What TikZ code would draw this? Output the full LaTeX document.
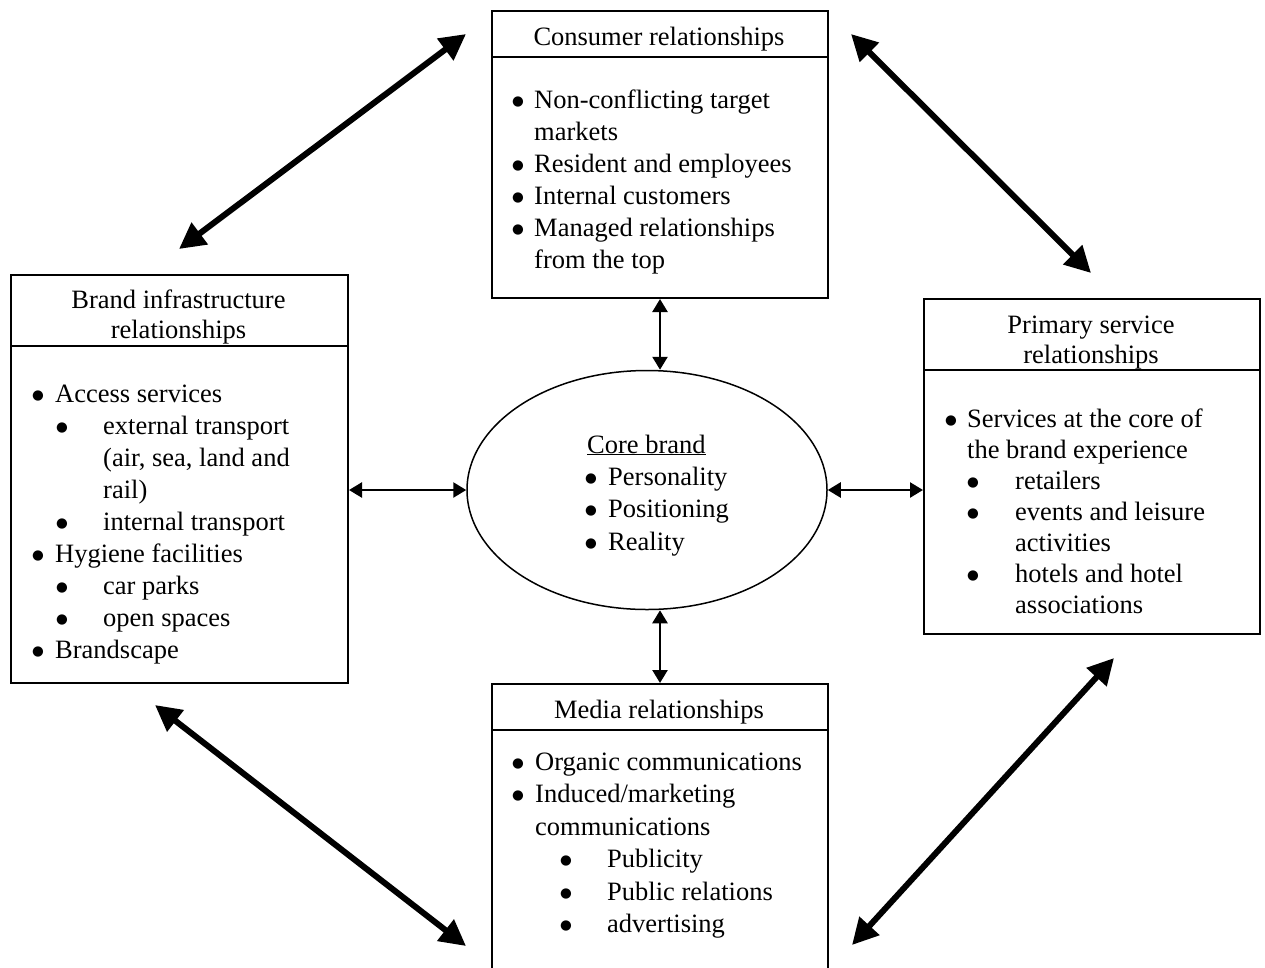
\documentclass[tikz,border=0pt]{standalone}
\usepackage{fontspec}
\setmainfont{Liberation Serif}
\newfontfamily\dejavu{DejaVu Sans}
\usetikzlibrary{arrows.meta,shapes.geometric}
\newcommand\Bul{\raisebox{3pt}{\dejavu\fontsize{13.5pt}{14pt}\selectfont ●}}
\newcommand\BL[2]{\hbox{\makebox[#1][l]{\Bul}#2}}
\newcommand\IN[2]{\hbox{\hspace*{#1}#2}}
\newcommand\BLL[3]{\hbox{\hspace*{#1}\makebox[#2][l]{\Bul}#3}}
\newcommand\Lines[2][32pt]{\vtop{\baselineskip=#1\lineskiplimit=-100pt\lineskip=0pt #2}}
\newcommand\Title[1]{\vtop{\baselineskip=30pt\lineskiplimit=-100pt\lineskip=0pt\halign{\hfil##\hfil\cr#1\crcr}}}
\begin{document}
\begin{tikzpicture}[x=1pt,y=-1pt,
  box/.style={draw, line width=2pt, rectangle, anchor=north west, inner sep=0pt},
  txt/.style={inner sep=0pt, anchor=base west, font=\fontsize{26.5pt}{32pt}\selectfont},
  ttl/.style={inner sep=0pt, anchor=base, font=\fontsize{26.5pt}{32pt}\selectfont},
  divider/.style={line width=2pt},
  thin arrow/.style={line width=2.5pt, {Triangle[length=13pt,width=15pt]}-{Triangle[length=13pt,width=15pt]}},
  thick arrow/.style={line width=6pt, {Triangle[length=26pt,width=26pt]}-{Triangle[length=26pt,width=26pt]}}]

\useasboundingbox[fill=white] (0,0) rectangle (1265,967);

% boxes
\node[box, minimum width=336pt, minimum height=287pt] (cons) at (491,10) {};
\node[box, minimum width=337pt, minimum height=408pt] (brand) at (10,274) {};
\node[box, minimum width=336pt, minimum height=335pt] (prim) at (923,298) {};
\node[box, minimum width=336pt, minimum height=300pt] (media) at (491,683) {};
\node[draw, ellipse, line width=1.5pt, minimum width=360pt, minimum height=239pt, inner sep=0pt] (core) at (647,490) {};

% dividers
\draw[divider] ([yshift=-47pt]cons.north west) -- ([yshift=-47pt]cons.north east);
\draw[divider] ([yshift=-72pt]brand.north west) -- ([yshift=-72pt]brand.north east);
\draw[divider] ([yshift=-72pt]prim.north west) -- ([yshift=-72pt]prim.north east);
\draw[divider] ([yshift=-47pt]media.north west) -- ([yshift=-47pt]media.north east);

% titles
\node[ttl] (consT) at (659,45) {Consumer relationships};
\node[ttl] (brandT) at (178.5,308) {\Title{Brand infrastructure\cr relationships}};
\node[ttl] (primT) at (1091,333) {\Title{Primary service\cr relationships}};
\node[ttl] (mediaT) at (659,718) {Media relationships};

% bodies
\node[txt] (consL) at (512,108) {\Lines{%
  \BL{22pt}{Non-conflicting target}%
  \IN{22pt}{markets}%
  \BL{22pt}{Resident and employees}%
  \BL{22pt}{Internal customers}%
  \BL{22pt}{Managed relationships}%
  \IN{22pt}{from the top}}};

\node[txt] (brandL) at (32,402) {\Lines{%
  \BL{23pt}{Access services}%
  \BLL{24pt}{47pt}{external transport}%
  \IN{71pt}{(air, sea, land and}%
  \IN{71pt}{rail)}%
  \BLL{24pt}{47pt}{internal transport}%
  \BL{23pt}{Hygiene facilities}%
  \BLL{24pt}{47pt}{car parks}%
  \BLL{24pt}{47pt}{open spaces}%
  \BL{23pt}{Brandscape}}};

\node[txt] (primL) at (945,427) {\Lines[31pt]{%
  \BL{22pt}{Services at the core of}%
  \IN{22pt}{the brand experience}%
  \BLL{22pt}{48pt}{retailers}%
  \BLL{22pt}{48pt}{events and leisure}%
  \IN{70pt}{activities}%
  \BLL{22pt}{48pt}{hotels and hotel}%
  \IN{70pt}{associations}}};

\node[txt] (mediaL) at (512,770) {\Lines[32.5pt]{%
  \BL{23pt}{Organic communications}%
  \BL{23pt}{Induced/marketing}%
  \IN{23pt}{communications}%
  \BLL{48pt}{47pt}{Publicity}%
  \BLL{48pt}{47pt}{Public relations}%
  \BLL{48pt}{47pt}{advertising}}};

\node[txt] (coreT) at (587,453) {\underline{Core brand}};
\node[txt] (coreL) at (585,485) {\Lines[32.5pt]{%
  \BL{23pt}{Personality}%
  \BL{23pt}{Positioning}%
  \BL{23pt}{Reality}}};

% thin connectors
\draw[thin arrow] (cons.south) -- (cons.south |- core.north);
\draw[thin arrow] (media.north |- core.south) -- (media.north);
\draw[thin arrow] (brand.east |- core.west) -- (core.west);
\draw[thin arrow] (core.east) -- (prim.west |- core.east);

% thick connectors
\coordinate (t1a) at (179,249); \coordinate (t1b) at (466,34);
\coordinate (t2a) at (851,34);  \coordinate (t2b) at (1091,273);
\coordinate (t3a) at (155,705); \coordinate (t3b) at (466,946);
\coordinate (t4a) at (852,945); \coordinate (t4b) at (1114,658);
\draw[thick arrow] (t1a) -- (t1b);
\draw[thick arrow] (t2a) -- (t2b);
\draw[thick arrow] (t3a) -- (t3b);
\draw[thick arrow] (t4a) -- (t4b);
\end{tikzpicture}
\end{document}
